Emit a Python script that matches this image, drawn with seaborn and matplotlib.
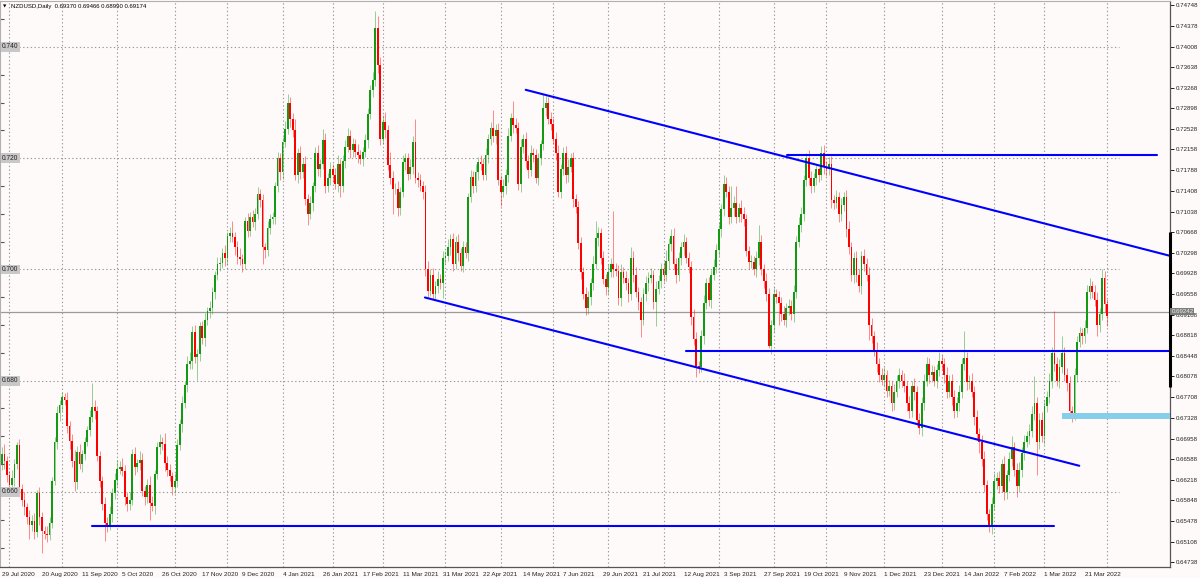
#!/usr/bin/env python3
"""
NZDUSD daily candlestick chart (MT4 style) with channel and level lines.
"""

import numpy as np
import pandas as pd
import matplotlib
matplotlib.use("Agg")
import matplotlib.pyplot as plt
import seaborn as sns

# daily closes in pips (price * 10000), 29 Jul 2020 .. 1 Apr 2022
CLOSES = [
    6668, 6655, 6630, 6612, 6625, 6650, 6684, 6605, 6585, 6572,
    6555, 6540, 6548, 6528, 6598, 6555, 6530, 6525, 6522, 6545,
    6620, 6690, 6742, 6756, 6770, 6765, 6718, 6692, 6655, 6617,
    6672, 6650, 6668, 6690, 6712, 6735, 6752, 6745, 6665, 6620,
    6578, 6545, 6540, 6560, 6598, 6622, 6642, 6645, 6638, 6590,
    6578, 6585, 6668, 6645, 6652, 6658, 6602, 6590, 6612, 6580,
    6575, 6632, 6680, 6690, 6686, 6652, 6640, 6628, 6608, 6620,
    6685, 6722, 6760, 6792, 6830, 6835, 6888, 6842, 6848, 6898,
    6876, 6910, 6925, 6930, 6960, 6990, 7010, 7012, 7030, 7020,
    7060, 7066, 7058, 7040, 7022, 7018, 7010, 7087, 7070, 7095,
    7085, 7100, 7135, 7125, 7040, 7035, 7075, 7090, 7095, 7150,
    7200, 7175, 7230, 7253, 7300, 7270, 7250, 7170, 7210, 7175,
    7190, 7127, 7100, 7120, 7150, 7210, 7180, 7190, 7233, 7150,
    7165, 7180, 7170, 7154, 7190, 7150, 7195, 7220, 7240, 7215,
    7225, 7212, 7205, 7198, 7212, 7232, 7280, 7322, 7340, 7435,
    7368, 7235, 7265, 7250, 7187, 7165, 7145, 7145, 7110, 7140,
    7193, 7200, 7172, 7185, 7230, 7165, 7160, 7150, 7140, 7001,
    6962, 6990, 6955, 6970, 6982, 6975, 7021, 7025, 7040, 7054,
    7010, 7050, 7030, 7007, 7040, 7030, 7130, 7167, 7150, 7175,
    7194, 7190, 7170, 7205, 7235, 7255, 7240, 7250, 7160, 7140,
    7150, 7170, 7240, 7272, 7260, 7255, 7154, 7220, 7235, 7195,
    7178, 7210, 7205, 7165, 7200, 7225, 7290, 7300, 7270, 7262,
    7235, 7210, 7140, 7180, 7210, 7170, 7185, 7200, 7127, 7113,
    7047, 6995, 6955, 6930, 6950, 6975, 7010, 7057, 7065, 7021,
    6983, 6968, 6995, 7010, 7000, 6998, 6948, 6995, 6985, 6975,
    6955, 7021, 6990, 6960, 6941, 6910, 6955, 6975, 6985, 6990,
    6941, 6965, 6980, 7000, 6990, 7015, 7046, 7060, 7010, 6990,
    7020, 7040, 7050, 7020, 7005, 6915, 6875, 6826, 6825, 6880,
    6940, 6975, 6945, 6990, 7005, 7035, 7073, 7108, 7154, 7140,
    7094, 7110, 7120, 7095, 7110, 7100, 7090, 7034, 7014, 7014,
    7000, 7020, 7050, 7000, 6980, 6955, 6862, 6900, 6955, 6950,
    6940, 6920, 6910, 6930, 6935, 6920, 6960, 7050, 7080, 7100,
    7160, 7200, 7165, 7150, 7165, 7180, 7170, 7210, 7185, 7180,
    7190, 7124, 7120, 7130, 7100, 7115, 7130, 7073, 7040, 6990,
    7020, 6990, 6970, 7025, 7010, 6990, 6900, 6880, 6855, 6830,
    6810, 6802, 6810, 6782, 6790, 6760, 6780, 6800, 6810, 6800,
    6790, 6760, 6745, 6790, 6780, 6730, 6715, 6760, 6800, 6830,
    6810, 6815, 6800, 6820, 6835, 6830, 6810, 6780, 6800, 6770,
    6745, 6760, 6780, 6830, 6840, 6797, 6800, 6780, 6735, 6705,
    6690, 6660, 6612, 6560, 6537, 6578, 6620, 6625, 6610, 6650,
    6600, 6630, 6660, 6680, 6640, 6610, 6640, 6670, 6690, 6700,
    6710, 6740, 6760, 6690, 6730, 6700, 6755, 6770, 6800, 6850,
    6830, 6800, 6825, 6850, 6810, 6795, 6745, 6740, 6810, 6870,
    6885, 6880, 6895, 6960, 6970, 6960, 6945, 6900, 6920, 6985,
    6937, 6917,
]
FIRST_OPEN = 6650

# upper / lower shadow length in pips beyond the body
WICK_UP = [
    12, 18, 10, 8, 14, 10, 6, 12, 9, 15,
    8, 12, 10, 14, 6, 11, 9, 8, 13, 10,
    7, 9, 12, 10, 10, 8, 14, 9, 12, 20,
    10, 15, 8, 9, 7, 12, 44, 14, 10, 9,
    8, 12, 10, 14, 9, 12, 15, 10, 16, 11,
    9, 14, 10, 12, 8, 15, 12, 9, 11, 16,
    12, 8, 10, 14, 9, 20, 12, 10, 8, 14,
    10, 9, 12, 8, 14, 16, 10, 12, 9, 8,
    10, 12, 8, 14, 9, 7, 12, 10, 9, 14,
    8, 10, 22, 9, 12, 16, 10, 8, 14, 9,
    12, 10, 14, 9, 11, 8, 12, 10, 9, 8,
    12, 10, 9, 14, 15, 10, 12, 20, 9, 12,
    10, 14, 9, 12, 8, 10, 14, 9, 20, 12,
    9, 14, 10, 12, 16, 9, 10, 12, 14, 10,
    12, 9, 14, 10, 8, 12, 10, 9, 15, 30,
    20, 14, 12, 18, 10, 25, 12, 10, 14, 9,
    12, 10, 9, 14, 10, 40, 10, 12, 9, 12,
    14, 10, 12, 9, 15, 10, 12, 9, 14, 10,
    12, 10, 14, 9, 11, 10, 8, 12, 10, 14,
    9, 12, 10, 14, 8, 10, 31, 12, 14, 10,
    12, 10, 14, 9, 30, 12, 10, 14, 9, 12,
    10, 14, 9, 12, 10, 8, 26, 12, 10, 14,
    10, 12, 14, 9, 10, 12, 14, 10, 12, 9,
    10, 12, 9, 14, 12, 10, 14, 30, 12, 10,
    12, 9, 14, 10, 95, 12, 10, 14, 9, 12,
    10, 20, 12, 14, 9, 10, 12, 14, 10, 12,
    9, 14, 10, 12, 14, 20, 10, 12, 14, 10,
    12, 10, 14, 9, 12, 10, 14, 12, 10, 12,
    14, 10, 12, 9, 14, 10, 12, 9, 16, 12,
    10, 40, 12, 30, 10, 14, 12, 10, 9, 12,
    10, 14, 30, 12, 10, 14, 12, 9, 14, 10,
    12, 10, 14, 9, 12, 10, 12, 10, 14, 12,
    10, 10, 14, 12, 9, 10, 5, 12, 14, 10,
    12, 14, 10, 12, 9, 14, 10, 12, 14, 10,
    12, 14, 10, 9, 12, 10, 14, 12, 10, 14,
    10, 12, 14, 10, 12, 9, 14, 10, 12, 10,
    14, 10, 12, 9, 14, 10, 12, 10, 12, 12,
    10, 14, 12, 10, 17, 12, 10, 14, 10, 12,
    14, 10, 12, 10, 49, 12, 10, 14, 10, 12,
    10, 12, 14, 10, 9, 12, 14, 10, 12, 10,
    14, 10, 12, 20, 10, 12, 14, 10, 12, 10,
    12, 14, 48, 10, 12, 14, 10, 12, 14, 10,
    75, 12, 14, 30, 10, 12, 14, 10, 12, 10,
    12, 10, 14, 12, 15, 10, 12, 14, 10, 15,
    12, 10,
]
WICK_DN = [
    10, 14, 12, 8, 10, 15, 9, 12, 10, 14,
    12, 25, 10, 12, 9, 14, 40, 10, 12, 9,
    10, 8, 12, 14, 10, 9, 12, 14, 10, 15,
    12, 9, 14, 10, 8, 12, 10, 14, 9, 12,
    10, 34, 12, 9, 14, 10, 12, 9, 10, 14,
    12, 10, 9, 14, 10, 12, 9, 14, 10, 30,
    10, 14, 9, 12, 10, 14, 12, 9, 14, 10,
    12, 9, 14, 10, 12, 9, 14, 10, 40, 12,
    10, 14, 9, 12, 10, 14, 9, 12, 10, 14,
    12, 10, 9, 14, 12, 10, 14, 9, 12, 10,
    9, 14, 10, 12, 30, 14, 10, 12, 9, 14,
    10, 14, 12, 9, 10, 14, 12, 10, 14, 12,
    10, 12, 20, 9, 14, 10, 12, 14, 9, 12,
    10, 14, 12, 9, 14, 20, 10, 12, 9, 14,
    12, 10, 14, 9, 12, 10, 14, 9, 12, 10,
    14, 12, 10, 14, 9, 12, 45, 10, 14, 12,
    10, 14, 12, 9, 14, 10, 12, 9, 14, 12,
    12, 10, 8, 9, 12, 10, 27, 12, 10, 14,
    12, 10, 14, 9, 12, 10, 14, 9, 12, 10,
    14, 12, 10, 9, 14, 12, 10, 14, 9, 26,
    10, 14, 12, 9, 14, 10, 12, 14, 10, 12,
    14, 10, 12, 9, 14, 12, 10, 14, 9, 12,
    10, 14, 9, 12, 10, 14, 12, 10, 14, 12,
    10, 12, 9, 12, 10, 14, 12, 10, 14, 12,
    10, 14, 12, 9, 14, 10, 12, 14, 10, 12,
    14, 10, 12, 9, 14, 31, 10, 12, 14, 10,
    12, 42, 10, 14, 12, 10, 14, 12, 10, 14,
    10, 12, 14, 9, 12, 14, 10, 20, 12, 10,
    14, 12, 10, 14, 9, 12, 10, 14, 12, 10,
    12, 10, 14, 12, 10, 14, 12, 10, 14, 12,
    10, 14, 12, 10, 14, 12, 3, 14, 12, 10,
    40, 12, 10, 14, 12, 10, 14, 12, 10, 12,
    12, 10, 14, 12, 10, 14, 12, 10, 14, 12,
    10, 14, 12, 10, 14, 12, 10, 14, 12, 10,
    14, 12, 10, 14, 12, 10, 26, 12, 10, 14,
    12, 10, 14, 12, 10, 14, 12, 10, 14, 12,
    10, 14, 12, 10, 14, 12, 10, 14, 12, 10,
    14, 12, 10, 14, 12, 10, 14, 12, 10, 14,
    12, 10, 14, 12, 10, 14, 12, 10, 14, 12,
    20, 14, 12, 10, 9, 12, 10, 14, 12, 10,
    14, 12, 10, 14, 12, 20, 10, 14, 12, 10,
    14, 12, 10, 60, 12, 10, 14, 12, 10, 14,
    12, 10, 14, 12, 10, 14, 12, 14, 10, 12,
    10, 14, 12, 10, 14, 12, 10, 20, 12, 10,
    14, 18,
]

# bottom axis labels, one every 16 bars
DATE_LABELS = [
    "29 Jul 2020", "20 Aug 2020", "11 Sep 2020", "5 Oct 2020", "26 Oct 2020",
    "17 Nov 2020", "9 Dec 2020", "4 Jan 2021", "26 Jan 2021", "17 Feb 2021",
    "11 Mar 2021", "31 Mar 2021", "22 Apr 2021", "14 May 2021", "7 Jun 2021",
    "29 Jun 2021", "21 Jul 2021", "12 Aug 2021", "3 Sep 2021", "27 Sep 2021",
    "19 Oct 2021", "9 Nov 2021", "1 Dec 2021", "23 Dec 2021", "14 Jan 2022",
    "7 Feb 2022", "1 Mar 2022", "21 Mar 2022",
]
LABEL_STEP = 16
# first bar of each month (vertical grid)
MONTH_STARTS = [3, 24, 46, 69, 90, 112, 132, 152, 177, 199, 220, 242, 264,
                286, 308, 329, 352, 375, 396, 416, 441]
# right price scale
PRICE_TICKS = [0.74748, 0.74378, 0.74008, 0.73638, 0.73268, 0.72898, 0.72528,
               0.72158, 0.71788, 0.71408, 0.71038, 0.70668, 0.70298, 0.69928,
               0.69558, 0.69188, 0.68818, 0.68448, 0.68078, 0.67708, 0.67328,
               0.66958, 0.66588, 0.66218, 0.65848, 0.65478, 0.65108, 0.64738]
GRID_LEVELS = [0.740, 0.720, 0.700, 0.680, 0.660]
LEFT_MARKS = [0.745, 0.735, 0.730, 0.725, 0.715, 0.710, 0.705, 0.695, 0.690,
              0.685, 0.675, 0.670, 0.665, 0.655, 0.650]

# drawn objects: (bar, price)
SUPPORT_X, SUPPORT_Y = [36.0, 419.8], [0.6538, 0.6538]
LOWER_CH_X, LOWER_CH_Y = [168.8, 429.9], [0.69496, 0.66470]
UPPER_CH_X, UPPER_CH_Y = [209.0, 466.1], [0.73230, 0.70245]
TOP_RES_X, TOP_RES_Y = [313.2, 460.9], [0.7206, 0.7206]
MID_LVL_X, MID_LVL_Y = [273.0, 466.1], [0.6853, 0.6853]
BAND_X, BAND_Y = [422.9, 466.1], [0.6732, 0.6742]
PRICE_LINE = 0.69242
RANGE_BAR = [0.6789, 0.7067]
HEADER = "NZDUSD,Daily  0.69370 0.69466 0.68990 0.69174"

BG = "#fffafa"
GREEN = "#139a13"
RED = "#ff0000"
BLUE = "#0000ff"
XMIN, XMAX = -0.76, 466.1
YMIN, YMAX = 0.6465, 0.74827
FS = 4.4


def build_frame():
    df = pd.DataFrame({"close": np.array(CLOSES) / 1e4})
    df["open"] = df["close"].shift(1).fillna(FIRST_OPEN / 1e4)
    top = df[["open", "close"]].max(axis=1)
    bot = df[["open", "close"]].min(axis=1)
    df["high"] = top + np.array(WICK_UP) / 1e4
    df["low"] = bot - np.array(WICK_DN) / 1e4
    df["body_bot"] = bot
    df["body_h"] = np.maximum(top - bot, 0.00004)
    df["bar"] = np.arange(len(df))
    df["bull"] = df["close"] >= df["open"]
    return df


def main():
    sns.set_theme(style="white")
    plt.rcParams["font.family"] = ["Liberation Sans", "DejaVu Sans"]

    df = build_frame()

    fig = plt.figure(figsize=(12, 5.78), dpi=100, facecolor=BG)
    ax = fig.add_axes([0.0, 11 / 578, 1170 / 1200, 566 / 578], facecolor=BG)
    ax.set_xlim(XMIN, XMAX)
    ax.set_ylim(YMIN, YMAX)

    # grid
    for b in MONTH_STARTS:
        ax.axvline(b, color="#9a9a9a", lw=0.8, ls=(0, (1.2, 2.2)), zorder=0.5)
    ax.hlines(GRID_LEVELS, XMIN, 445.7, color="#9a9a9a", lw=0.8,
              ls=(0, (1.2, 2.2)), zorder=0.5)
    ax.hlines(LEFT_MARKS, 0, 0.003, transform=ax.get_yaxis_transform(),
              color="#555555", lw=0.8)
    ax.axhline(PRICE_LINE, color="#9a9a9a", lw=0.9, zorder=0.6)

    # candles
    for bull, col in ((True, GREEN), (False, RED)):
        d = df[df["bull"] == bull]
        ax.vlines(d["bar"], d["low"], d["high"], color=col, lw=0.7,
                  alpha=0.45, zorder=2)
        ax.bar(d["bar"], d["body_h"], bottom=d["body_bot"], width=0.72,
               color=col, linewidth=0, zorder=2.5)

    # drawn objects
    for xs, ys in ((SUPPORT_X, SUPPORT_Y), (LOWER_CH_X, LOWER_CH_Y),
                   (UPPER_CH_X, UPPER_CH_Y), (TOP_RES_X, TOP_RES_Y),
                   (MID_LVL_X, MID_LVL_Y)):
        sns.lineplot(x=xs, y=ys, ax=ax, color=BLUE, lw=1.5, zorder=3)
    ax.fill_between(BAND_X, BAND_Y[0], BAND_Y[1], color="#87ceeb",
                    lw=0, zorder=3)
    ax.vlines(XMAX, RANGE_BAR[0], RANGE_BAR[1], color="black", lw=2.2,
              clip_on=False, zorder=5)

    # left price boxes
    for lvl in GRID_LEVELS:
        ax.text(0.0017, lvl, f"{lvl:.3f}", transform=ax.get_yaxis_transform(),
                ha="left", va="center", fontsize=4.8, color="#222222",
                bbox=dict(boxstyle="square,pad=0.2", fc="#c8c8c8", ec="none"),
                zorder=4)

    # header
    ax.text(0.0025, 0.990, "\u25bc", transform=ax.transAxes, fontsize=3.2,
            ha="left", va="center", color="black",
            family=["DejaVu Sans"])
    ax.text(0.0095, 0.990, HEADER, transform=ax.transAxes, fontsize=4.3,
            ha="left", va="center", color="black")

    # right price scale
    ax.yaxis.tick_right()
    ax.set_yticks(PRICE_TICKS)
    ax.set_yticklabels([f"{v:.5f}" for v in PRICE_TICKS])
    ax.tick_params(axis="y", direction="out", length=3, width=0.7,
                   colors="#222222", labelsize=FS, pad=1.5, left=False)
    ax.text(1.0012, PRICE_LINE, f"{PRICE_LINE:.5f}",
            transform=ax.get_yaxis_transform(), ha="left", va="center",
            fontsize=FS, color="#eeeeee", clip_on=False, zorder=6,
            bbox=dict(boxstyle="square,pad=0.15", fc="#7d7d7d", ec="none"))

    # bottom date scale
    ax.set_xticks([i * LABEL_STEP for i in range(len(DATE_LABELS))])
    ax.set_xticklabels(DATE_LABELS)
    for lab in ax.get_xticklabels():
        lab.set_horizontalalignment("left")
    ax.tick_params(axis="x", direction="out", length=3, width=0.7,
                   colors="#222222", labelsize=4.6, pad=0.8)
    ax.set_xlabel("")
    ax.set_ylabel("")

    for side in ("top", "left"):
        ax.spines[side].set_color("#b0b0b0")
        ax.spines[side].set_linewidth(0.8)
    for side in ("right", "bottom"):
        ax.spines[side].set_color("#555555")
        ax.spines[side].set_linewidth(0.9)

    fig.savefig("out.png", dpi=100, facecolor=BG)
    plt.close(fig)


if __name__ == "__main__":
    main()
